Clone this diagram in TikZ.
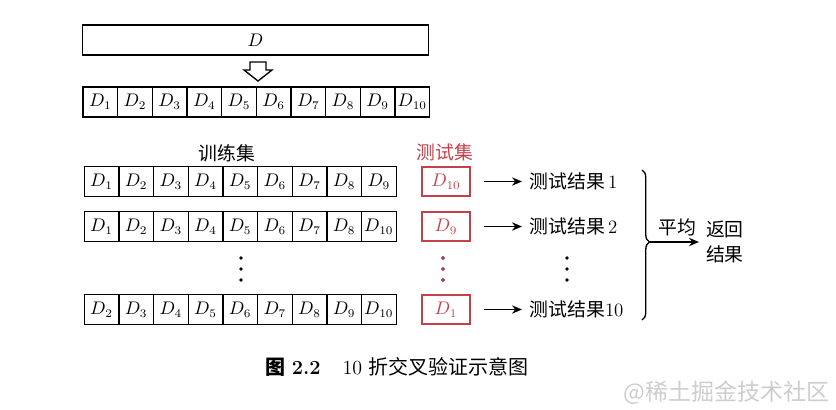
\documentclass[tikz,border=0pt]{standalone}
\usepackage{fontspec}
\newfontfamily\cjk{Noto Sans CJK SC}
\usepackage{tikz}
\usetikzlibrary{positioning,arrows.meta,decorations.pathreplacing}

\definecolor{testred}{RGB}{195,65,75}
\definecolor{markgray}{RGB}{205,205,205}

\tikzset{
  cell/.style={draw, line width=0.8pt, minimum width=20.8pt, minimum height=18pt,
    inner sep=0pt, outer sep=0pt, font=\fontsize{10.5}{12}\selectfont},
  testbox/.style={cell, draw=testred, text=testred, minimum width=28.8pt, minimum height=17.4pt},
  zh/.style={font=\cjk\fontsize{11.3}{15}\selectfont, inner sep=1pt},
  res/.style={zh, anchor=west, inner sep=2pt},
  conn/.style={-{Stealth[length=6pt, width=5pt]}, line width=0.8pt},
  dotsym/.style={fill, circle, inner sep=0pt, minimum size=2.2pt},
}

\begin{document}
\begin{tikzpicture}[x=0.6pt, y=-0.6pt]
  \useasboundingbox (0,0) rectangle (836,409);
  % Whole data set
  \node[cell, minimum width=207.6pt] (whole) at (255.5,40) {$D$}; %
  \draw[line width=0.8pt, line join=miter] (250,62) -- (266,62) -- (266,70) -- (272,70)
    -- (258,81) -- (244,70) -- (250,70) -- cycle; %
  % Split into ten folds
  \node[cell] (s1) at (100.3,102) {$D_{1}$}; %
  \foreach \i in {2,...,10} {
    \pgfmathtruncatemacro\j{\i-1}
    \node[cell, right=0pt of s\j] (s\i) {$D_{\i}$}; %
  }
  % Training sets
  \node[cell] (a1) at (101.5,181.5) {$D_{1}$}; %
  \foreach \lbl [count=\i from 2] in {2,...,9} {
    \pgfmathtruncatemacro\j{\i-1}
    \node[cell, right=0pt of a\j] (a\i) {$D_{\lbl}$}; %
  }
  \node[cell] (b1) at (101.5,226.5) {$D_{1}$}; %
  \foreach \lbl [count=\i from 2] in {2,...,8,10} {
    \pgfmathtruncatemacro\j{\i-1}
    \node[cell, right=0pt of b\j] (b\i) {$D_{\lbl}$}; %
  }
  \node[cell] (c1) at (101.5,309.5) {$D_{2}$}; %
  \foreach \lbl [count=\i from 2] in {3,...,10} {
    \pgfmathtruncatemacro\j{\i-1}
    \node[cell, right=0pt of c\j] (c\i) {$D_{\lbl}$}; %
  }
  \node[zh] (trainlbl) at (227,153) {训练集}; %
  % Test sets
  \node[testbox] (t1) at (446,181.5) {$D_{10}$}; %
  \node[testbox] (t2) at (446,226.5) {$D_{9}$}; %
  \node[testbox] (t3) at (446,309.5) {$D_{1}$}; %
  \node[zh, text=testred] (testlbl) at (445,152) {测试集}; %
  % Results
  \node[res] (res1) at (526,181.5) {测试结果\,\rmfamily 1}; %
  \node[res] (res2) at (526,226.5) {测试结果\,\rmfamily 2}; %
  \node[res] (res3) at (526,309.5) {测试结果\rmfamily 10}; %
  \draw[conn, shorten <=8.4pt, shorten >=2.4pt] (t1) -- (res1); %
  \draw[conn, shorten <=8.4pt, shorten >=2.4pt] (t2) -- (res2); %
  \draw[conn, shorten <=8.4pt, shorten >=2.4pt] (t3) -- (res3); %
  % Vertical dots
  \foreach \x/\name in {241/tr, 443/te, 567/re} {
    \node[dotsym] (\name1) at (\x,258) {};
    \node[dotsym] (\name2) at (\x,269) {};
    \node[dotsym] (\name3) at (\x,280) {};
  }
  \foreach \k in {1,2,3} \node[dotsym, fill=testred] at (te\k) {};
  % Averaging
  \coordinate (bt) at (642,170); %
  \coordinate (bb) at (642,320); %
  \draw[line width=0.8pt, decorate, decoration={brace, amplitude=4.5pt, aspect=0.48}] (bt) -- (bb); %
  \coordinate (avg) at (650,242); %
  \node[zh, anchor=west, align=center] (ret) at (704,242) {返回\\结果}; %
  \draw[conn, shorten >=3pt] (avg) -- node[zh, above=2pt] (avglbl) {平均} (ret); %
  % Caption
  \node[font=\fontsize{12}{14}\selectfont] (caption) at (397,367)
    {{\cjk\bfseries 图}\ \textbf{2.2}\hspace{1.1em}10\ {\cjk 折交叉验证示意图}}; %
  \node[anchor=east, text=markgray, font=\cjk\fontsize{13.8}{15}\selectfont] (mark) at (835,393) {@稀土掘金技术社区}; %
\end{tikzpicture}
\end{document}
